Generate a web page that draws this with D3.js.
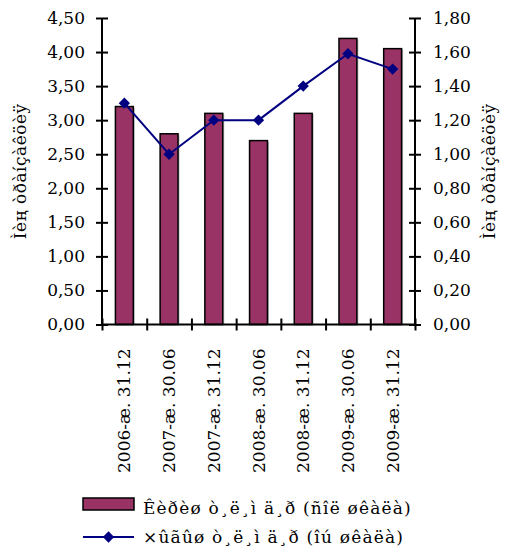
<!DOCTYPE html>
<html>
<head>
<meta charset="utf-8">
<script src="https://d3js.org/d3.v7.min.js"></script>
<style>
  body { margin: 0; background: #fff; }
  text { font-family: "DejaVu Serif", serif; fill: #000; }
</style>
</head>
<body>
<script>
// data
var categories = ["2006-æ. 31.12", "2007-æ. 30.06", "2007-æ. 31.12", "2008-æ. 30.06",
                  "2008-æ. 31.12", "2009-æ. 30.06", "2009-æ. 31.12"];
var incoming = [3.2, 2.8, 3.1, 2.7, 3.1, 4.2, 4.05];     // bars, left scale
var outgoing = [1.3, 1.0, 1.2, 1.2, 1.4, 1.59, 1.5];     // line, right scale
var leftTicks = [0, 0.5, 1, 1.5, 2, 2.5, 3, 3.5, 4, 4.5];
var rightTicks = [0, 0.2, 0.4, 0.6, 0.8, 1, 1.2, 1.4, 1.6, 1.8];
var yTitle = "Ìèң òðàíçàêöèÿ";
var legendBars = "Êèðèø ò¸ë¸ì ä¸ð (ñîë øêàëà)";
var legendLine = "×ûãûø ò¸ë¸ì ä¸ð (îú øêàëà)";

var width = 507, height = 546;
var margin = { top: 18, bottom: 221.5, left: 102, right: 92 };
var x0 = margin.left, x1 = width - margin.right;
var yBot = height - margin.bottom;

var svg = d3.select("body").append("svg").attr("width", width).attr("height", height);

var x = d3.scaleBand().domain(categories).range([x0, x1]).paddingInner(0.6).paddingOuter(0.3);
var xEdge = d3.scaleLinear().domain([0, categories.length]).range([x0, x1]);
var yL = d3.scaleLinear().domain([0, 4.5]).range([yBot, margin.top]);
var yR = d3.scaleLinear().domain([0, 1.8]).range([yBot, margin.top]);

var fmt = function(d) { return d3.format(".2f")(d).replace(".", ","); };

// bars (with the faint grey edge of the original)
svg.append("g").selectAll("rect").data(incoming).enter().append("rect")
  .attr("x", function(d, i) { return x(categories[i]) + 1.5; })
  .attr("y", function(d) { return yL(d) + 1; })
  .attr("width", x.bandwidth())
  .attr("height", function(d) { return yBot - yL(d) - 1; })
  .attr("fill", "#bbbbbb");
svg.append("g").selectAll("rect").data(incoming).enter().append("rect")
  .attr("x", function(d, i) { return x(categories[i]); })
  .attr("y", function(d) { return yL(d); })
  .attr("width", x.bandwidth())
  .attr("height", function(d) { return yBot - yL(d); })
  .attr("fill", "#993366")
  .attr("stroke", "#000")
  .attr("stroke-width", 1.5);

// left axis
var gl = svg.append("g").attr("transform", "translate(" + x0 + ",0)")
  .call(d3.axisLeft(yL).tickValues(leftTicks).tickFormat(fmt).tickSize(6).tickPadding(11));
gl.selectAll(".tick line").attr("x1", 6);
gl.select(".domain").attr("d", "M0," + margin.top + "V" + yBot);

// right axis
var gr = svg.append("g").attr("transform", "translate(" + x1 + ",0)")
  .call(d3.axisRight(yR).tickValues(rightTicks).tickFormat(fmt).tickSize(6).tickPadding(12));
gr.selectAll(".tick line").attr("x1", -6);
gr.select(".domain").attr("d", "M0," + margin.top + "V" + yBot);

// bottom axis with ticks at category edges
var gb = svg.append("g").attr("transform", "translate(0," + yBot + ")")
  .call(d3.axisBottom(xEdge).tickValues(d3.range(categories.length + 1)).tickFormat("").tickSize(6));
gb.selectAll(".tick line").attr("y1", -6);
gb.select(".domain").attr("d", "M" + x0 + ",0H" + x1);

svg.selectAll(".domain, .tick line").attr("stroke", "#000").attr("stroke-width", 2);
svg.selectAll(".tick text").attr("font-size", "17px").style("font-family", "DejaVu Serif");

// category labels, rotated
svg.append("g").selectAll("text").data(categories).enter().append("text")
  .attr("transform", function(d) {
    return "translate(" + (x(d) + x.bandwidth() / 2 + 6) + "," + (yBot + 24) + ") rotate(-90)";
  })
  .attr("text-anchor", "end")
  .attr("font-size", "17px")
  .text(function(d) { return d; });

// line
var cx = function(i) { return x(categories[i]) + x.bandwidth() / 2; };
svg.append("path").datum(outgoing)
  .attr("fill", "none")
  .attr("stroke", "#000080")
  .attr("stroke-width", 2)
  .attr("d", d3.line().x(function(d, i) { return cx(i); }).y(function(d) { return yR(d); }));

var diamond = d3.symbol().type(d3.symbolSquare).size(64);
svg.append("g").selectAll("path").data(outgoing).enter().append("path")
  .attr("d", diamond)
  .attr("transform", function(d, i) { return "translate(" + cx(i) + "," + yR(d) + ") rotate(45)"; })
  .attr("fill", "#000080");

// axis titles
svg.append("text")
  .attr("transform", "translate(26," + ((margin.top + yBot) / 2) + ") rotate(-90)")
  .attr("text-anchor", "middle")
  .attr("font-size", "17px")
  .attr("letter-spacing", "0.5px")
  .text(yTitle);
svg.append("text")
  .attr("transform", "translate(495," + ((margin.top + yBot) / 2) + ") rotate(-90)")
  .attr("text-anchor", "middle")
  .attr("font-size", "17px")
  .attr("letter-spacing", "0.5px")
  .text(yTitle);

// legend
var lg = svg.append("g");
lg.append("rect").attr("x", 83).attr("y", 498).attr("width", 51).attr("height", 12)
  .attr("fill", "#993366").attr("stroke", "#000").attr("stroke-width", 1.5);
lg.append("text").attr("x", 143).attr("y", 514).attr("font-size", "17px")
  .attr("letter-spacing", "1.2px").text(legendBars);
lg.append("line").attr("x1", 83).attr("x2", 134).attr("y1", 537).attr("y2", 537)
  .attr("stroke", "#000080").attr("stroke-width", 2);
lg.append("path").attr("d", diamond).attr("transform", "translate(108.5,537) rotate(45)").attr("fill", "#000080");
lg.append("text").attr("x", 143).attr("y", 543).attr("font-size", "17px")
  .attr("letter-spacing", "1.2px").text(legendLine);
</script>
</body>
</html>
